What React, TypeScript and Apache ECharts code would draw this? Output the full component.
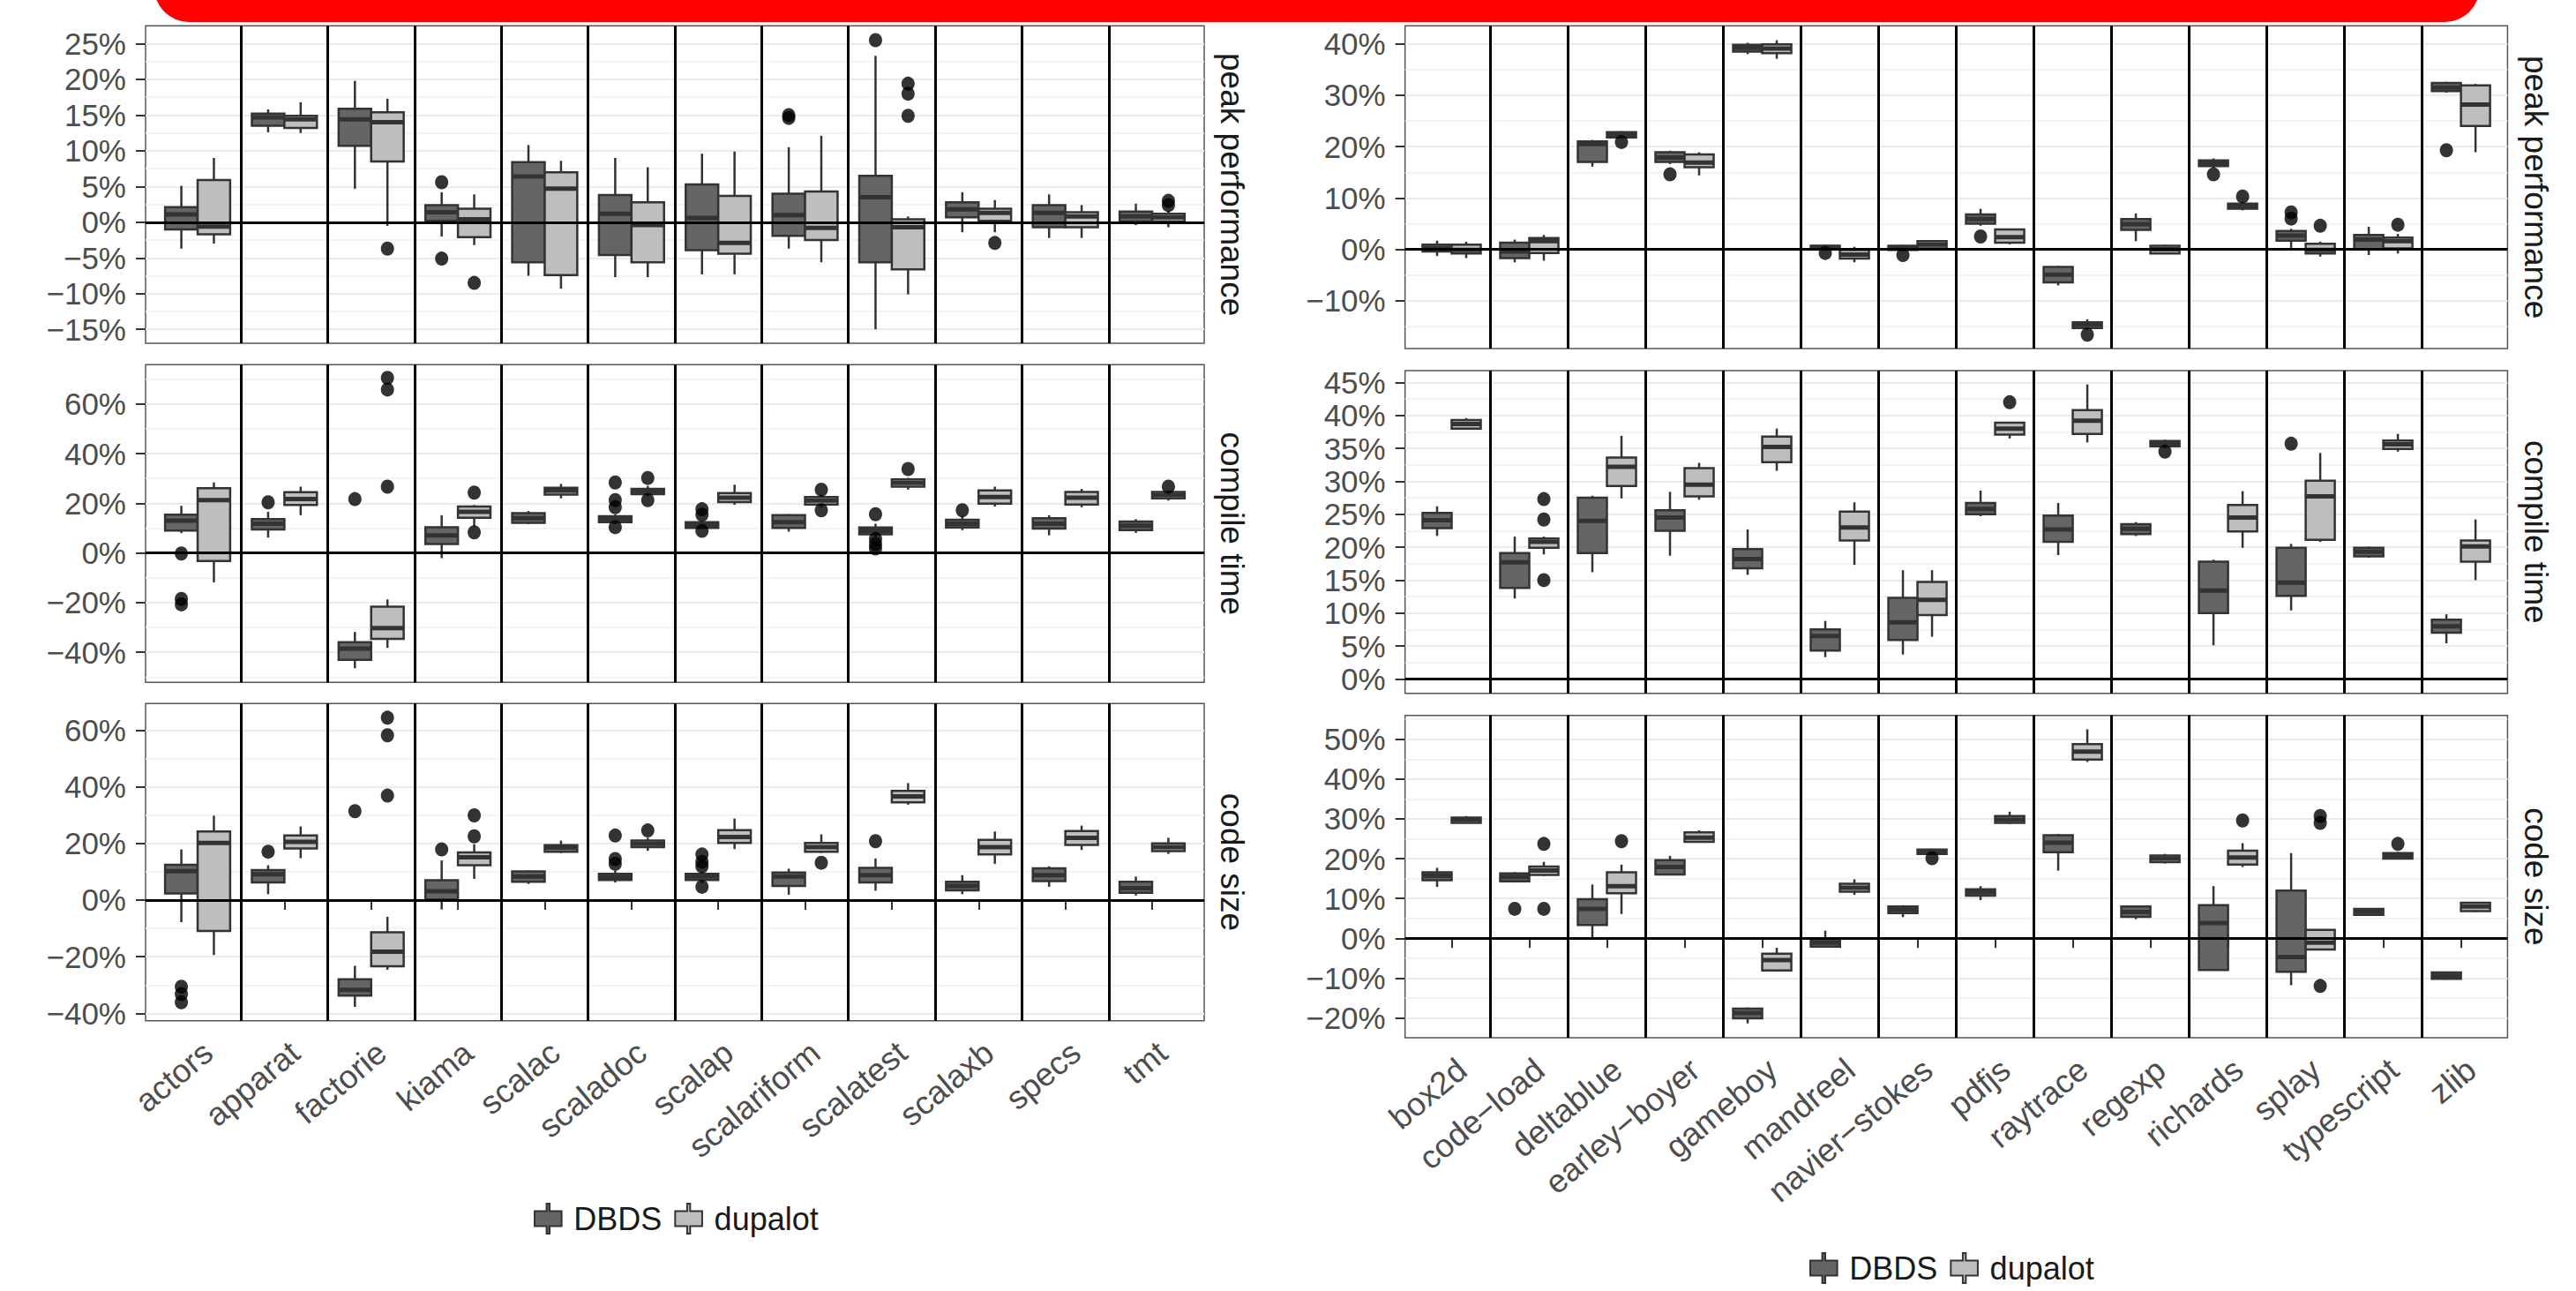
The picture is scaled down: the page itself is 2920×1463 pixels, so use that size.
import React, { useEffect, useRef } from "react";
import * as echarts from "echarts";

// ---------- categories & labels ----------
const leftCategories = ["actors", "apparat", "factorie", "kiama", "scalac", "scaladoc", "scalap", "scalariform", "scalatest", "scalaxb", "specs", "tmt"];
const rightCategories = ["box2d", "code\u2212load", "deltablue", "earley\u2212boyer", "gameboy", "mandreel", "navier\u2212stokes", "pdfjs", "raytrace", "regexp", "richards", "splay", "typescript", "zlib"];
const groupNames = ["DBDS", "dupalot"];
const facetLabels = ["peak performance", "compile time", "code size"];

// ---------- tick labels (percent) ----------
const ltTicks = [-15, -10, -5, 0, 5, 10, 15, 20, 25];
const lmTicks = [-40, -20, 0, 20, 40, 60];
const lbTicks = [-40, -20, 0, 20, 40, 60];
const rtTicks = [-10, 0, 10, 20, 30, 40];
const rmTicks = [0, 5, 10, 15, 20, 25, 30, 35, 40, 45];
const rbTicks = [-20, -10, 0, 10, 20, 30, 40, 50];

// ---------- box stats: [whiskerLow, Q1, median, Q3, whiskerHigh] ----------
// left / peak performance
const ltDBDS = [
  [-3.7, -1.0, 1.1, 2.1, 5.1], [12.6, 13.5, 14.7, 15.2, 15.8], [4.7, 10.7, 14.4, 15.9, 19.8], [-2.0, 0.2, 1.4, 2.4, 4.2],
  [-7.5, -5.6, 6.4, 8.4, 10.8], [-7.7, -4.6, 1.2, 3.8, 9.0], [-7.3, -3.9, 0.6, 5.3, 9.6], [-3.7, -1.9, 1.0, 4.0, 10.5],
  [-15.0, -5.6, 3.5, 6.5, 23.3], [-1.4, 0.7, 1.8, 2.8, 4.2], [-2.2, -0.7, 1.3, 2.4, 3.9], [-0.4, 0.1, 0.8, 1.5, 2.6],
];
const ltDupalot = [
  [-3.0, -1.7, -0.6, 5.9, 9.0], [12.5, 13.2, 14.4, 14.9, 16.8], [-0.5, 8.5, 14.0, 15.4, 17.3], [-3.2, -2.1, 0.4, 1.9, 3.9],
  [-9.3, -7.4, 4.7, 7.0, 8.6], [-7.7, -5.6, -0.4, 2.8, 7.7], [-7.3, -4.4, -2.9, 3.7, 9.9], [-5.6, -2.5, -0.8, 4.3, 12.1],
  [-10.1, -6.6, -0.7, 0.4, 0.8], [-1.4, 0.2, 1.3, 1.9, 3.1], [-2.2, -0.7, 0.8, 1.4, 2.4], [-0.7, 0.1, 0.7, 1.2, 1.6],
];
const ltDBDSOut = [[4, 5.6], [4, -5.1], [8, 15.0], [8, 14.6], [9, 25.5]];
const ltDupalotOut = [[3, -3.7], [4, -8.5], [9, 19.4], [9, 18.0], [9, 14.9], [10, -2.9], [12, 3.0], [12, 2.4]];

// left / compile time
const lmDBDS = [
  [8.0, 9.0, 13.0, 15.4, 19.0], [6.2, 9.5, 11.8, 13.6, 16.6], [-46.4, -43.0, -38.5, -35.9, -31.8], [-2.1, 3.6, 7.1, 10.4, 15.2],
  [11.6, 12.1, 14.0, 16.0, 16.9], [11.6, 12.4, 13.6, 14.8, 15.5], [9.8, 10.1, 11.3, 12.4, 12.8], [8.6, 10.1, 12.4, 15.2, 15.6],
  [6.6, 7.5, 8.9, 10.3, 11.8], [9.2, 10.3, 11.8, 13.4, 14.8], [7.1, 9.8, 11.8, 14.0, 15.2], [8.1, 9.2, 11.0, 12.7, 13.6],
];
const lmDupalot = [
  [-11.8, -3.2, 21.3, 26.1, 28.4], [15.2, 19.3, 21.7, 24.5, 26.7], [-38.2, -34.6, -30.2, -21.6, -18.7], [10.7, 14.2, 16.6, 18.7, 19.3],
  [22.0, 23.5, 25.1, 26.3, 27.8], [22.8, 23.7, 24.9, 25.8, 27.0], [19.4, 20.5, 22.3, 24.1, 27.5], [18.5, 19.5, 21.1, 22.5, 23.5],
  [25.5, 26.7, 28.2, 29.6, 30.2], [18.7, 19.9, 22.5, 25.2, 26.7], [18.4, 19.5, 22.3, 24.6, 25.8], [21.1, 22.0, 23.3, 24.6, 25.0],
];
const lmDBDSOut = [[1, -0.2], [1, -18.5], [1, -20.7], [2, 20.4], [3, 21.7], [6, 28.4], [6, 21.3], [6, 18.4], [6, 10.4],
  [7, 17.6], [7, 15.4], [7, 8.9], [9, 15.6], [9, 5.7], [9, 3.6], [9, 1.8], [10, 17.2]];
const lmDupalotOut = [[3, 70.5], [3, 65.8], [3, 26.7], [4, 24.3], [4, 8.3], [6, 30.2], [6, 21.3], [8, 25.5], [8, 17.2], [9, 33.8], [12, 26.7]];

// left / code size
const lbDBDS = [
  [-7.8, 2.3, 10.2, 12.5, 17.9], [2.1, 6.2, 9.1, 10.6, 12.3], [-37.7, -33.7, -31.7, -28.0, -23.2], [-3.3, 0.2, 3.1, 7.0, 14.0],
  [5.7, 6.5, 8.3, 10.1, 10.4], [6.2, 7.1, 8.2, 9.3, 10.3], [6.0, 7.1, 8.3, 9.3, 10.0], [1.9, 5.0, 8.3, 9.7, 11.1],
  [3.3, 6.2, 8.8, 11.4, 14.7], [2.1, 3.4, 5.0, 6.5, 8.8], [4.7, 6.7, 8.8, 11.2, 11.9], [1.6, 2.6, 4.2, 6.5, 8.3],
];
const lbDupalot = [
  [-19.4, -10.9, 20.2, 24.2, 29.8], [14.8, 18.2, 20.6, 22.8, 26.0], [-24.6, -23.4, -18.2, -11.4, -5.9], [7.5, 12.3, 15.1, 16.8, 19.7],
  [16.6, 17.1, 18.4, 19.4, 21.0], [17.4, 18.7, 19.9, 21.0, 22.0], [18.0, 20.2, 22.3, 24.7, 28.8], [16.6, 17.1, 18.7, 20.2, 23.2],
  [33.7, 34.5, 36.6, 38.6, 41.3], [12.8, 16.1, 18.7, 21.3, 24.2], [17.7, 19.5, 22.0, 24.4, 26.3], [16.3, 17.3, 18.7, 20.0, 22.0],
];
const lbDBDSOut = [[1, -30.6], [1, -33.2], [1, -36.1], [2, 17.1], [3, 31.4], [4, 17.9], [6, 22.8], [6, 14.5], [6, 12.8],
  [7, 16.1], [7, 13.5], [7, 11.9], [7, 4.7], [9, 20.8]];
const lbDupalotOut = [[3, 64.4], [3, 58.2], [3, 36.9], [4, 29.9], [4, 22.5], [6, 24.6], [8, 13.2]];

// right / peak performance
const rtDBDS = [
  [-1.3, -0.4, 0.2, 0.9, 1.7], [-2.5, -1.7, -0.4, 1.3, 1.9], [16.1, 17.0, 20.5, 21.0, 21.3], [16.6, 17.0, 17.9, 18.9, 19.2],
  [38.0, 38.5, 39.2, 39.8, 40.2], [-0.1, 0.1, 0.45, 0.7, 0.9], [-0.3, -0.1, 0.35, 0.7, 0.9], [4.6, 5.0, 5.9, 6.8, 7.9],
  [-7.0, -6.4, -4.9, -3.4, -3.2], [1.6, 3.8, 4.9, 5.9, 7.0], [15.9, 16.2, 16.8, 17.3, 17.7], [0.3, 1.7, 2.7, 3.6, 4.0],
  [-1.1, 0.0, 1.9, 2.8, 4.4], [30.5, 30.8, 31.5, 32.4, 32.6],
];
const rtDupalot = [
  [-1.7, -0.8, -0.1, 0.9, 1.5], [-2.2, -0.7, 1.6, 2.2, 2.8], [21.6, 21.8, 22.2, 22.8, 23.0], [14.4, 16.0, 16.9, 18.5, 18.9],
  [37.1, 38.2, 39.1, 39.9, 40.7], [-2.5, -1.8, -1.0, -0.1, 0.5], [0.1, 0.2, 0.9, 1.6, 1.8], [1.0, 1.3, 2.4, 3.9, 4.0],
  [-15.6, -15.3, -14.7, -14.2, -13.6], [-0.9, -0.8, 0.0, 0.7, 0.9], [7.6, 7.9, 8.4, 8.9, 9.2], [-1.4, -0.8, -0.1, 1.1, 1.5],
  [-0.8, 0.2, 1.6, 2.3, 3.0], [18.9, 24.0, 28.2, 31.9, 32.2],
];
const rtDBDSOut = [[4, 14.6], [6, -0.7], [7, -1.1], [8, 2.5], [11, 14.6], [12, 7.2], [12, 6.0], [14, 19.3]];
const rtDupalotOut = [[3, 20.9], [9, -16.6], [11, 10.3], [12, 4.6], [13, 4.8]];

// right / compile time
const rmDBDS = [
  [21.7, 22.9, 24.1, 25.2, 26.2], [12.2, 13.8, 17.7, 19.1, 21.6], [16.2, 19.1, 24.0, 27.5, 27.8], [18.7, 22.5, 24.5, 25.6, 28.4],
  [15.8, 16.8, 18.2, 19.7, 22.7], [3.3, 4.3, 6.5, 7.5, 8.8], [3.7, 5.9, 8.6, 12.3, 16.5], [24.7, 25.0, 25.8, 26.7, 28.6],
  [18.8, 20.8, 22.7, 24.8, 26.7], [21.7, 22.0, 22.8, 23.5, 23.8], [5.1, 10.0, 13.4, 17.8, 18.1], [10.4, 12.6, 14.6, 19.9, 20.5],
  [18.4, 18.6, 19.3, 19.9, 20.1], [5.4, 7.0, 8.0, 9.0, 9.8],
];
const rmDupalot = [
  [37.9, 38.0, 38.7, 39.3, 39.6], [18.9, 19.9, 20.8, 21.3, 21.6], [27.4, 29.3, 32.2, 33.6, 36.9], [27.2, 27.7, 29.5, 32.0, 32.8],
  [31.6, 32.9, 35.2, 36.8, 38.0], [17.3, 21.0, 23.0, 25.4, 26.8], [6.4, 9.7, 12.0, 14.7, 16.5], [36.5, 37.1, 38.0, 38.9, 39.0],
  [35.9, 37.2, 39.2, 40.8, 44.7], [35.0, 35.3, 35.7, 36.1, 36.3], [19.9, 22.4, 24.5, 26.4, 28.5], [20.8, 21.1, 27.7, 30.1, 34.3],
  [34.5, 34.9, 35.6, 36.2, 37.2], [15.0, 17.8, 20.1, 21.0, 24.2],
];
const rmDBDSOut = [[12, 35.7]];
const rmDupalotOut = [[2, 27.3], [2, 24.2], [2, 15.0], [8, 42.0], [10, 34.5]];

// right / code size
const rbDBDS = [
  [12.9, 14.6, 15.7, 16.6, 17.7], [14.0, 14.3, 15.4, 16.3, 16.6], [0.0, 3.3, 7.4, 9.8, 13.5], [15.8, 16.0, 17.9, 19.6, 20.7],
  [-21.4, -20.1, -18.8, -17.7, -17.4], [-2.2, -2.1, -1.1, -0.2, 1.9], [5.3, 6.3, 7.2, 8.0, 8.3], [9.6, 10.7, 11.6, 12.3, 13.1],
  [17.0, 21.6, 24.0, 25.9, 26.2], [4.8, 5.4, 6.6, 8.0, 8.2], [-8.0, -8.0, 3.8, 8.3, 13.1], [-11.8, -8.4, -4.7, 12.0, 21.4],
  [5.8, 5.9, 6.7, 7.4, 7.5], [-10.4, -10.2, -9.4, -8.6, -8.4],
];
const rbDupalot = [
  [28.8, 29.0, 29.8, 30.3, 30.7], [15.6, 15.9, 17.0, 18.0, 19.2], [6.1, 11.3, 13.1, 16.6, 18.5], [24.0, 24.2, 25.3, 26.6, 27.1],
  [-8.4, -8.1, -5.5, -3.9, -2.4], [10.9, 11.7, 12.7, 13.7, 14.8], [21.0, 21.2, 21.8, 22.3, 22.5], [28.7, 29.0, 29.8, 30.7, 31.8],
  [44.3, 44.9, 46.9, 48.8, 52.5], [18.8, 19.1, 20.0, 20.8, 21.2], [17.9, 18.5, 20.3, 22.0, 23.9], [-3.0, -2.8, -1.1, 2.1, 2.2],
  [19.9, 20.0, 20.7, 21.4, 21.7], [6.6, 6.8, 8.0, 8.9, 9.1],
];
const rbDBDSOut = [[2, 7.4]];
const rbDupalotOut = [[2, 23.7], [2, 7.4], [3, 24.4], [7, 20.1], [11, 29.6], [12, 30.7], [12, 29.0], [12, -12.0], [13, 23.7]];

// ---------- styling / layout ----------
const FONT = "'Liberation Sans', Arial, Helvetica, sans-serif";
const DARK_FILL = "#656565";
const LIGHT_FILL = "#bebebe";
const OUTLINE = "#333333";
const DODGE = 0.1875;
const HALF_W = 0.1875;
const BOX_ICON = "path://M4.5,0H5.5V2.5H9.5V7.5H5.5V10H4.5V7.5H0.5V2.5H4.5Z";

const layout = [
  { left: 165, top: 29.3, width: 1200, height: 359.7, min: -16.95, max: 27.5, step: 5, stripX: 1396 },
  { left: 165, top: 413.3, width: 1200, height: 360, min: -52.1, max: 75.8, step: 20, stripX: 1396 },
  { left: 165, top: 797.3, width: 1200, height: 359.4, min: -42.6, max: 69.4, step: 20, stripX: 1396 },
  { left: 1592.7, top: 29.3, width: 1249.7, height: 365.7, min: -19.3, max: 43.5, step: 10, stripX: 2874 },
  { left: 1592.7, top: 420, width: 1249.7, height: 365.7, min: -2.19, max: 46.8, step: 5, stripX: 2874 },
  { left: 1592.7, top: 810.7, width: 1249.7, height: 365.3, min: -25.0, max: 56.0, step: 10, stripX: 2874 },
];

const facets = [
  { cats: leftCategories, dbds: ltDBDS, dup: ltDupalot, dbdsOut: ltDBDSOut, dupOut: ltDupalotOut, ticks: ltTicks, label: facetLabels[0], bottom: false },
  { cats: leftCategories, dbds: lmDBDS, dup: lmDupalot, dbdsOut: lmDBDSOut, dupOut: lmDupalotOut, ticks: lmTicks, label: facetLabels[1], bottom: false },
  { cats: leftCategories, dbds: lbDBDS, dup: lbDupalot, dbdsOut: lbDBDSOut, dupOut: lbDupalotOut, ticks: lbTicks, label: facetLabels[2], bottom: true },
  { cats: rightCategories, dbds: rtDBDS, dup: rtDupalot, dbdsOut: rtDBDSOut, dupOut: rtDupalotOut, ticks: rtTicks, label: facetLabels[0], bottom: false },
  { cats: rightCategories, dbds: rmDBDS, dup: rmDupalot, dbdsOut: rmDBDSOut, dupOut: rmDupalotOut, ticks: rmTicks, label: facetLabels[1], bottom: false },
  { cats: rightCategories, dbds: rbDBDS, dup: rbDupalot, dbdsOut: rbDBDSOut, dupOut: rbDupalotOut, ticks: rbTicks, label: facetLabels[2], bottom: true },
];

const pct = (v: number) => (v < 0 ? "\u2212" + Math.abs(v) : String(v)) + "%";

function renderBox(_params: any, api: any) {
  const x = api.value(0);
  const low = api.coord([x, api.value(1)]);
  const q1 = api.coord([x, api.value(2)]);
  const med = api.coord([x, api.value(3)]);
  const q3 = api.coord([x, api.value(4)]);
  const high = api.coord([x, api.value(5)]);
  const half = api.size([HALF_W, 0])[0];
  const fill = api.visual("color");
  const thin = { stroke: OUTLINE, lineWidth: 2.5 };
  return {
    type: "group",
    children: [
      { type: "line", shape: { x1: high[0], y1: high[1], x2: q3[0], y2: q3[1] }, style: thin },
      { type: "line", shape: { x1: q1[0], y1: q1[1], x2: low[0], y2: low[1] }, style: thin },
      { type: "rect", shape: { x: q3[0] - half, y: q3[1], width: half * 2, height: q1[1] - q3[1] }, style: { fill, stroke: OUTLINE, lineWidth: 2.5 } },
      { type: "line", shape: { x1: med[0] - half, y1: med[1], x2: med[0] + half, y2: med[1] }, style: { stroke: OUTLINE, lineWidth: 5 } },
    ],
  };
}

function buildOption() {
  const grid: any[] = [];
  const xAxis: any[] = [];
  const yAxis: any[] = [];
  const series: any[] = [];
  const graphic: any[] = [
    { type: "rect", shape: { x: 174.5, y: -100, width: 2636.5, height: 125, r: 40 }, style: { fill: "#ff0000" }, z: 100 },
  ];

  facets.forEach((f, i) => {
    const L = layout[i];
    const n = f.cats.length;
    const catIdx = f.cats.map((_, k) => k + 1);
    grid.push({ left: L.left, top: L.top, width: L.width, height: L.height, show: true, borderColor: "#555555", borderWidth: 1.5, backgroundColor: "#ffffff" });
    xAxis.push({
      type: "value", gridIndex: i, min: 0.4, max: n + 0.6,
      axisLine: { show: false },
      splitLine: { show: false },
      axisTick: { show: f.bottom, customValues: catIdx, length: 11, lineStyle: { color: OUTLINE, width: 2 } },
      axisLabel: {
        show: f.bottom, customValues: catIdx,
        formatter: (v: number) => f.cats[Math.round(v) - 1] || "",
        rotate: 40, align: "right", verticalAlign: "top",
        fontSize: 37, color: "#4d4d4d", fontFamily: FONT, margin: 17,
      },
    });
    yAxis.push({
      type: "value", gridIndex: i, min: L.min, max: L.max,
      minInterval: L.step, maxInterval: L.step, splitNumber: Math.round((L.max - L.min) / L.step),
      axisLine: { show: false },
      axisTick: { show: true, customValues: f.ticks, length: 11, lineStyle: { color: OUTLINE, width: 2 } },
      axisLabel: { customValues: f.ticks, formatter: pct, fontSize: 35, color: "#4d4d4d", fontFamily: FONT, margin: 22 },
      splitLine: { show: true, lineStyle: { color: "#ebebeb", width: 2 } },
      minorTick: { show: false, splitNumber: 2 },
      minorSplitLine: { show: true, lineStyle: { color: "#f1f1f1", width: 1.5 } },
    });

    const seps = catIdx.slice(0, n - 1).map((k) => ({ xAxis: k + 0.5 }));

    series.push({
      type: "custom", name: groupNames[0], xAxisIndex: i, yAxisIndex: i, silent: true,
      itemStyle: { color: DARK_FILL },
      encode: { x: 0, y: [1, 2, 3, 4, 5] },
      data: f.dbds.map((b, k) => [k + 1 - DODGE, ...b]),
      renderItem: renderBox,
      z: 2,
      markLine: {
        silent: true, symbol: ["none", "none"], label: { show: false }, animation: false,
        lineStyle: { color: "#000000", width: 3, type: "solid" },
        emphasis: { disabled: true },
        data: [...seps, { yAxis: 0, lineStyle: { color: "#000000", width: 3.2, type: "solid" } }],
      },
    });
    series.push({
      type: "custom", name: groupNames[1], xAxisIndex: i, yAxisIndex: i, silent: true,
      itemStyle: { color: LIGHT_FILL },
      encode: { x: 0, y: [1, 2, 3, 4, 5] },
      data: f.dup.map((b, k) => [k + 1 + DODGE, ...b]),
      renderItem: renderBox,
      z: 2,
    });
    series.push({
      type: "scatter", name: groupNames[0] + " outliers", xAxisIndex: i, yAxisIndex: i, silent: true,
      symbol: "circle", symbolSize: [15, 16], itemStyle: { color: "#000000" }, z: 3,
      data: f.dbdsOut.map(([c, v]) => [c - DODGE, v]),
    });
    series.push({
      type: "scatter", name: groupNames[1] + " outliers", xAxisIndex: i, yAxisIndex: i, silent: true,
      symbol: "circle", symbolSize: [15, 16], itemStyle: { color: "#000000" }, z: 3,
      data: f.dupOut.map(([c, v]) => [c + DODGE, v]),
    });

    graphic.push({
      type: "text", x: L.stripX, y: L.top + L.height / 2, rotation: -Math.PI / 2,
      style: { text: f.label, fontSize: 37, fontFamily: FONT, fill: "#1a1a1a", align: "center", verticalAlign: "middle", textAlign: "center", textVerticalAlign: "middle" },
    });
  });

  const legendBase = {
    orient: "horizontal", selectedMode: false, icon: BOX_ICON,
    itemWidth: 36, itemHeight: 34, itemGap: 14,
    itemStyle: { borderColor: OUTLINE, borderWidth: 2 },
    textStyle: { fontSize: 36, color: "#1a1a1a", fontFamily: FONT, padding: [0, 0, 0, 6] },
    data: groupNames,
  };

  return {
    animation: false,
    backgroundColor: "#ffffff",
    grid, xAxis, yAxis, series, graphic,
    legend: [
      { ...legendBase, left: 600, top: 1358 },
      { ...legendBase, left: 2046, top: 1414 },
    ],
  };
}

export default function App() {
  const ref = useRef<HTMLDivElement>(null);
  useEffect(() => {
    if (!ref.current) return;
    const chart = echarts.init(ref.current, null, { renderer: "svg" });
    chart.setOption(buildOption() as any);
    return () => chart.dispose();
  }, []);
  return (
    <div
      ref={ref}
      style={{ position: "fixed", left: 0, top: 0, width: 2920, height: 1463, background: "#ffffff" }}
    />
  );
}
